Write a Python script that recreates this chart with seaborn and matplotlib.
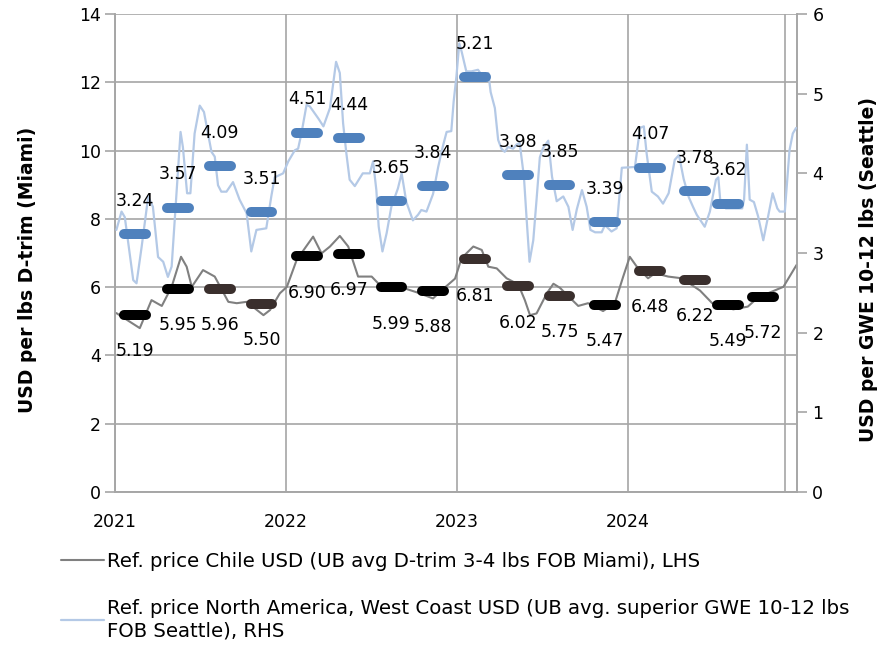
import pandas as pd
import matplotlib.pyplot as plt
from matplotlib.lines import Line2D
import seaborn as sns

# weekly ref. price Chile, USD per lbs D-trim (left axis)
chile_dates = ["2021-01-04", "2021-02-23", "2021-03-20", "2021-04-11", "2021-05-02", "2021-05-22",
               "2021-06-03", "2021-06-14", "2021-07-08", "2021-08-02", "2021-08-31", "2021-09-18",
               "2021-10-09", "2021-11-14", "2021-11-28", "2021-12-19",
               "2022-01-03", "2022-01-24", "2022-02-28", "2022-03-18", "2022-04-05", "2022-04-26",
               "2022-05-14", "2022-06-04", "2022-07-03", "2022-07-24", "2022-09-01", "2022-10-07",
               "2022-11-11", "2022-12-03", "2022-12-28",
               "2023-01-11", "2023-02-05", "2023-02-23", "2023-03-09", "2023-03-27", "2023-04-17",
               "2023-05-12", "2023-05-26", "2023-06-06", "2023-06-20", "2023-07-12", "2023-07-26",
               "2023-08-09", "2023-08-22", "2023-09-17", "2023-10-08", "2023-11-09", "2023-12-04",
               "2023-12-22",
               "2024-01-05", "2024-01-20", "2024-02-13", "2024-02-28", "2024-03-27", "2024-04-25",
               "2024-06-03", "2024-06-29", "2024-08-13", "2024-09-13", "2024-10-05", "2024-11-28",
               "2024-12-26"]
chile_prices = [5.24, 4.80, 5.62, 5.45, 6.01, 6.89, 6.60, 6.01, 6.50, 6.31, 5.57, 5.53, 5.57, 5.18, 5.33, 5.82,
                6.01, 6.80, 7.48, 6.99, 7.19, 7.50, 7.19, 6.31, 6.31, 6.01, 6.01, 5.85, 5.67, 5.95, 6.25,
                6.85, 7.19, 7.09, 6.60, 6.55, 6.26, 6.08, 5.62, 5.18, 5.23, 5.82, 6.10, 5.98, 5.80, 5.45,
                5.53, 5.30, 5.53, 6.31,
                6.89, 6.60, 6.26, 6.41, 6.31, 6.26, 5.90, 5.53, 5.35, 5.43, 5.70, 6.01, 6.65]

# weekly ref. price North America West Coast, USD per GWE 10-12 lbs (right axis)
na_dates = ["2021-01-04", "2021-01-15", "2021-01-22", "2021-02-09", "2021-02-16", "2021-02-27",
            "2021-03-13", "2021-03-23", "2021-04-03", "2021-04-14", "2021-04-24", "2021-05-02",
            "2021-05-09", "2021-05-21", "2021-05-26", "2021-06-04", "2021-06-11", "2021-06-20",
            "2021-07-01", "2021-07-10", "2021-07-26", "2021-08-02", "2021-08-09", "2021-08-16",
            "2021-08-27", "2021-09-10", "2021-09-24", "2021-10-09", "2021-10-19", "2021-10-30",
            "2021-11-20", "2021-12-01", "2021-12-08", "2021-12-26",
            "2022-01-06", "2022-01-20", "2022-01-27", "2022-02-03", "2022-02-14", "2022-02-21",
            "2022-03-11", "2022-03-22", "2022-04-05", "2022-04-18", "2022-04-26", "2022-05-03",
            "2022-05-10", "2022-05-17", "2022-05-28", "2022-06-14", "2022-06-29", "2022-07-06",
            "2022-07-13", "2022-07-18", "2022-07-26", "2022-08-04", "2022-08-14", "2022-08-28",
            "2022-09-05", "2022-09-15", "2022-09-29", "2022-10-10", "2022-10-17", "2022-10-28",
            "2022-11-11", "2022-11-22", "2022-12-02", "2022-12-10", "2022-12-20", "2022-12-25",
            "2022-12-31",
            "2023-01-06", "2023-01-11", "2023-01-21", "2023-02-01", "2023-02-15", "2023-02-26",
            "2023-03-09", "2023-03-14", "2023-03-23", "2023-03-30", "2023-04-06", "2023-04-13",
            "2023-04-20", "2023-05-01", "2023-05-08", "2023-05-15", "2023-05-24", "2023-05-30",
            "2023-06-05", "2023-06-13", "2023-06-20", "2023-06-27", "2023-07-04", "2023-07-15",
            "2023-07-23", "2023-08-02", "2023-08-16", "2023-08-27", "2023-09-05", "2023-09-14",
            "2023-09-25", "2023-10-05", "2023-10-13", "2023-10-23", "2023-11-06", "2023-11-13",
            "2023-11-27", "2023-12-08", "2023-12-19",
            "2024-01-16", "2024-01-27", "2024-02-04", "2024-02-10", "2024-02-21", "2024-03-05",
            "2024-03-16", "2024-03-28", "2024-04-10", "2024-04-19", "2024-04-29", "2024-05-10",
            "2024-05-19", "2024-05-27", "2024-06-13", "2024-06-24", "2024-07-07", "2024-07-12",
            "2024-07-16", "2024-07-28", "2024-09-01", "2024-09-05", "2024-09-11", "2024-09-17",
            "2024-09-26", "2024-10-05", "2024-10-16", "2024-10-26", "2024-11-05", "2024-11-15",
            "2024-11-20", "2024-12-01", "2024-12-11", "2024-12-18", "2024-12-25"]
na_prices = [3.29, 3.52, 3.45, 2.66, 2.62, 3.08, 3.71, 3.58, 2.95, 2.89, 2.70, 2.83,
             3.46, 4.52, 4.33, 3.75, 3.75, 4.50, 4.85, 4.77, 4.27, 4.21, 3.85, 3.77,
             3.77, 3.89, 3.67, 3.50, 3.02, 3.29, 3.31, 3.72, 3.95, 4.00,
             4.15, 4.29, 4.31, 4.50, 4.86, 4.84, 4.69, 4.59, 4.82, 5.40, 5.26, 4.63,
             4.25, 3.92, 3.84, 4.00, 4.00, 4.15, 3.79, 3.33, 3.02, 3.25, 3.58, 3.81,
             4.00, 3.64, 3.41, 3.48, 3.54, 3.52, 3.74, 4.08, 4.34, 4.52, 4.53, 4.90,
             5.22,
             5.63, 5.53, 5.28, 5.28, 5.30, 5.21, 5.26, 5.02, 4.82, 4.42, 4.31, 4.27,
             4.33, 4.31, 4.36, 4.38, 3.96, 3.41, 2.89, 3.16, 3.67, 4.20, 4.32, 4.41,
             3.96, 3.65, 3.71, 3.58, 3.29, 3.55, 3.79, 3.58, 3.29, 3.26, 3.26, 3.35,
             3.27, 3.31, 4.07,
             4.08, 4.57, 4.59, 4.25, 3.77, 3.71, 3.62, 3.75, 4.17, 4.23, 3.93, 3.70,
             3.58, 3.48, 3.33, 3.52, 3.92, 3.95, 3.67, 3.56, 3.56, 3.67, 4.36, 3.67,
             3.64, 3.46, 3.16, 3.45, 3.75, 3.56, 3.52, 3.52, 4.29, 4.50, 4.57]

# quarterly averages
quarter_mid = ["2021-02-13", "2021-05-15", "2021-08-13", "2021-11-10",
               "2022-02-15", "2022-05-16", "2022-08-14", "2022-11-11",
               "2023-02-09", "2023-05-11", "2023-08-08", "2023-11-13",
               "2024-02-17", "2024-05-23", "2024-08-02", "2024-10-15"]
chile_qavg = [5.19, 5.95, 5.96, 5.50, 6.90, 6.97, 5.99, 5.88,
              6.81, 6.02, 5.75, 5.47, 6.48, 6.22, 5.49, 5.72]
na_qavg = [3.24, 3.57, 4.09, 3.51, 4.51, 4.44, 3.65, 3.84,
           5.21, 3.98, 3.85, 3.39, 4.07, 3.78, 3.62]

year_ticks = ["2021-01-01", "2022-01-01", "2023-01-01", "2024-01-01"]
year_labels = ["2021", "2022", "2023", "2024"]

chile_label = "Ref. price Chile USD (UB avg D-trim 3-4 lbs FOB Miami), LHS"
na_label = "Ref. price North America, West Coast USD (UB avg. superior GWE 10-12 lbs\nFOB Seattle), RHS"

sns.set_style("white")
plt.rcParams["font.family"] = ["DejaVu Sans"]
plt.rcParams["text.color"] = "black"
plt.rcParams["axes.labelcolor"] = "black"
plt.rcParams["xtick.color"] = "black"
plt.rcParams["ytick.color"] = "black"

GRID = "#a6a6a6"
GREY_LINE = "#808080"
BLUE_LINE = "#b4c9e6"
BLUE_BAR = "#4f81bd"
bar_colors = ["#000000", "#000000", "#3a2f2d", "#3a2f2d",
              "#000000", "#000000", "#000000", "#000000",
              "#3a2f2d", "#3a2f2d", "#3a2f2d", "#000000",
              "#3a2f2d", "#3a2f2d", "#000000", "#000000"]

chile_df = pd.DataFrame({"date": pd.to_datetime(chile_dates), "price": chile_prices})
na_df = pd.DataFrame({"date": pd.to_datetime(na_dates), "price": na_prices})
qdates = pd.to_datetime(quarter_mid)
half = pd.Timedelta(days=23)

fig = plt.figure(figsize=(8.94, 6.49), dpi=100)
ax = fig.add_axes([0.1286, 0.2419, 0.7629, 0.7365])
ax2 = ax.twinx()

sns.lineplot(data=chile_df, x="date", y="price", ax=ax, color=GREY_LINE, lw=1.5, zorder=3)
sns.lineplot(data=na_df, x="date", y="price", ax=ax2, color=BLUE_LINE, lw=1.6, zorder=3)

for d, v, c in zip(qdates, chile_qavg, bar_colors):
    ax.plot([d - half, d + half], [v, v], color=c, lw=7.2, solid_capstyle="round", zorder=4)
    ax.annotate(f"{v:.2f}", (d, v), xytext=(0, -26), textcoords="offset points",
                ha="center", va="center", fontsize=12.5, zorder=5)

for d, v in zip(qdates, na_qavg):
    ax2.plot([d - half, d + half], [v, v], color=BLUE_BAR, lw=7.2, solid_capstyle="round", zorder=4)
    ax2.annotate(f"{v:.2f}", (d, v), xytext=(0, 24), textcoords="offset points",
                 ha="center", va="center", fontsize=12.5, zorder=5)

ax.set_ylim(0, 14)
ax2.set_ylim(0, 6)
ax.set_yticks(range(0, 15, 2))
ax2.set_yticks(range(0, 7))
ax.set_xlim(pd.Timestamp("2021-01-01"), pd.Timestamp("2024-12-27"))
ax.set_xticks(pd.to_datetime(year_ticks))
ax.set_xticklabels(year_labels)

ax.grid(True, color=GRID, lw=1.2)
ax.set_axisbelow(True)
ax.axvline(pd.Timestamp("2024-12-01"), color=GRID, lw=1.2, zorder=0)
ax2.grid(False)

for a in (ax, ax2):
    for s in a.spines.values():
        s.set_color(GRID)
        s.set_linewidth(1.2)
    a.spines["top"].set_visible(False)
ax.tick_params(axis="y", length=7, width=1.2, color=GRID, labelcolor="black", pad=3, labelsize=12.5)
ax.tick_params(axis="x", length=5, width=1.2, color=GRID, labelcolor="black", pad=10, labelsize=12.5)
ax2.tick_params(axis="y", length=7, width=1.2, color=GRID, labelcolor="black", pad=4, labelsize=12.5)

ax.set_xlabel("")
ax.set_ylabel("USD per lbs D-trim (Miami)", fontsize=13.5, fontweight="bold")
ax2.set_ylabel("USD per GWE 10-12 lbs (Seattle)", fontsize=13.5, fontweight="bold")
ax.yaxis.set_label_coords(-0.114, 0.465)
ax2.yaxis.set_label_coords(1.091, 0.465)

handles = [Line2D([], [], color=GREY_LINE, lw=1.5), Line2D([], [], color=BLUE_LINE, lw=1.6)]
fig.legend(handles, [chile_label, na_label], loc="upper left", bbox_to_anchor=(0.057, 0.165),
           frameon=False, fontsize=14.2, handlelength=2.2, handletextpad=0.15,
           labelspacing=1.45, borderpad=0)

fig.savefig("out.png", dpi=100)
